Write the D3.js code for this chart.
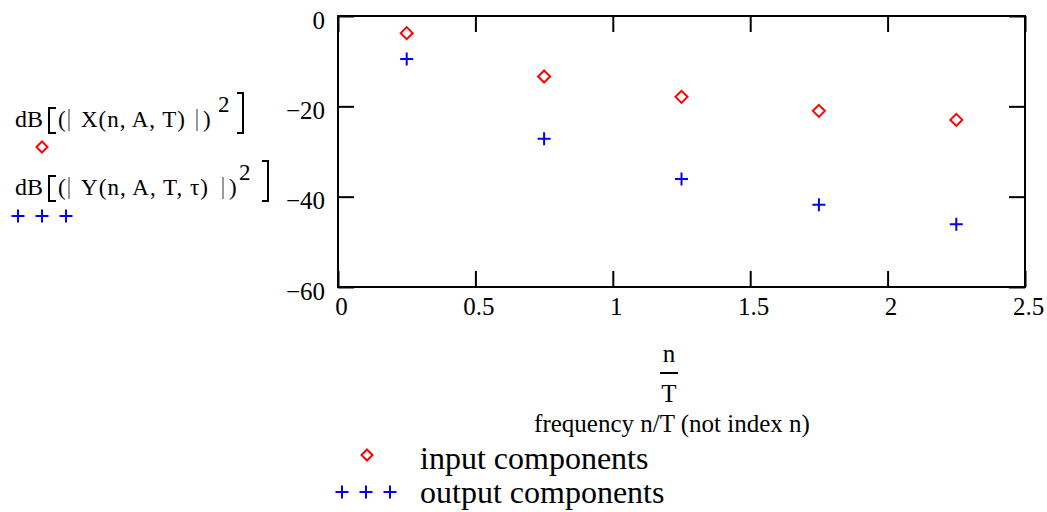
<!DOCTYPE html>
<html>
<head>
<meta charset="utf-8">
<script src="https://cdn.jsdelivr.net/npm/d3@7"></script>
<style>
  body { margin: 0; background: #fff; }
  svg { display: block; font-family: "Liberation Serif", "DejaVu Serif", serif; }
</style>
</head>
<body>
<svg id="chart" width="1047" height="512"></svg>
<script>
// Data
const freq = [0.25, 0.75, 1.25, 1.75, 2.25];
const inputDb = [-3.8, -13.4, -17.9, -21.0, -23.0];
const outputDb = [-9.5, -27.2, -36.1, -41.8, -46.1];
const xTicks = [0, 0.5, 1, 1.5, 2, 2.5];
const yTicks = [0, -20, -40, -60];

const svg = d3.select('#chart');

// Plot frame
const plotL = 338, plotR = 1025, plotT = 16, plotB = 287;

const x = d3.scaleLinear().domain([0, 2.5]).range([plotL, plotR]);
const y = d3.scaleLinear().domain([-60, 0]).range([plotB, plotT]);

const tickLen = 16;
const fmtX = d => d3.format('')(d);
const fmtY = d => d === 0 ? '0' : '\u2212' + Math.abs(d);

// Axes with inward ticks, mirrored on all four sides
const gBottom = svg.append('g').attr('transform', `translate(0,${plotB})`)
    .call(d3.axisBottom(x).tickValues(xTicks).tickSize(-tickLen).tickPadding(12).tickFormat(fmtX));
const gTop = svg.append('g').attr('transform', `translate(0,${plotT})`)
    .call(d3.axisTop(x).tickValues(xTicks).tickSize(-tickLen).tickFormat(''));
const gLeft = svg.append('g').attr('transform', `translate(${plotL},0)`)
    .call(d3.axisLeft(y).tickValues(yTicks).tickSize(-tickLen).tickPadding(13).tickFormat(fmtY));
const gRight = svg.append('g').attr('transform', `translate(${plotR},0)`)
    .call(d3.axisRight(y).tickValues(yTicks).tickSize(-tickLen).tickFormat(''));

[gBottom, gTop, gLeft, gRight].forEach(g => {
  g.selectAll('.domain').remove();
  g.selectAll('.tick line').attr('stroke', '#000').attr('stroke-width', 2);
  g.selectAll('.tick text').attr('fill', '#000')
    .style('font-family', '"Liberation Serif", serif').style('font-size', '25px');
});
gBottom.selectAll('.tick text').attr('dy', '0.64em').attr('dx', 3);
gLeft.selectAll('.tick text').attr('dy', '0.48em');

svg.append('rect')
  .attr('x', plotL).attr('y', plotT)
  .attr('width', plotR - plotL).attr('height', plotB - plotT)
  .attr('fill', 'none').attr('stroke', '#000').attr('stroke-width', 2);

// Markers
const diamond = (cx, cy, r) => `M${cx},${cy - r}L${cx + r},${cy}L${cx},${cy + r}L${cx - r},${cy}Z`;
const plus = (cx, cy, r) => `M${cx - r},${cy}H${cx + r}M${cx},${cy - r}V${cy + r}`;

svg.append('g').selectAll('path')
  .data(freq.map((f, i) => [f, inputDb[i]]))
  .join('path')
  .attr('d', d => diamond(x(d[0]), y(d[1]), 6))
  .attr('fill', 'none').attr('stroke', '#ff0000').attr('stroke-width', 2);

svg.append('g').selectAll('path')
  .data(freq.map((f, i) => [f, outputDb[i]]))
  .join('path')
  .attr('d', d => plus(x(d[0]), y(d[1]), 6.5))
  .attr('fill', 'none').attr('stroke', '#0000ff').attr('stroke-width', 2);

// X axis label: fraction n/T and caption
const lab = svg.append('g').style('font-size', '25px').attr('fill', '#000');
lab.append('text').attr('x', 669).attr('y', 362).attr('text-anchor', 'middle').text('n');
lab.append('line').attr('x1', 660).attr('x2', 678).attr('y1', 373).attr('y2', 373)
  .attr('stroke', '#000').attr('stroke-width', 2);
lab.append('text').attr('x', 669).attr('y', 402).attr('text-anchor', 'middle').text('T');
lab.append('text').attr('x', 672).attr('y', 432).attr('text-anchor', 'middle')
  .style('font-size', '25px').text('frequency n/T (not index n)');

// Bottom legend
const leg = svg.append('g').style('font-size', '32px').attr('fill', '#000');
leg.append('path').attr('d', diamond(367, 455, 5.5))
  .attr('fill', 'none').attr('stroke', '#ff0000').attr('stroke-width', 2);
leg.append('text').attr('x', 420).attr('y', 469).text('input components');
[342, 366, 390].forEach(cx => leg.append('path').attr('d', plus(cx, 492, 6.5))
  .attr('fill', 'none').attr('stroke', '#0000ff').attr('stroke-width', 2));
leg.append('text').attr('x', 420).attr('y', 503).text('output components');

// Left trace labels (Mathcad style expressions)
function expr(g, yb, e, brTop) {
  g.append('text').attr('x', 15).attr('y', yb).style('font-size', '24px').text('dB');
  // left bracket
  g.append('path').attr('d', `M56,${brTop}H49V${yb + 6}H56`)
    .attr('fill', 'none').attr('stroke', '#000').attr('stroke-width', 2);
  g.append('text').attr('x', 58).attr('y', yb).style('font-size', '23px').text('(');
  g.append('line').attr('x1', 69).attr('x2', 69).attr('y1', yb - 18).attr('y2', yb + 4)
    .attr('stroke', '#777').attr('stroke-width', 1.5);
  g.append('text').attr('x', 81).attr('y', yb).style('font-size', '23px')
    .attr('textLength', e.w).text(e.text);
  g.append('line').attr('x1', e.bar).attr('x2', e.bar).attr('y1', yb - 18).attr('y2', yb + 4)
    .attr('stroke', '#777').attr('stroke-width', 1.5);
  g.append('text').attr('x', e.bar + 6).attr('y', yb).style('font-size', '23px').text(')');
  g.append('text').attr('x', e.sup).attr('y', yb - 15).style('font-size', '23px').text('2');
  // right bracket
  g.append('path').attr('d', `M${e.rb - 6},${yb - 34}H${e.rb}V${yb + 6}H${e.rb - 6}`)
    .attr('fill', 'none').attr('stroke', '#000').attr('stroke-width', 2);
}
const lg = svg.append('g').attr('fill', '#000');
expr(lg, 127, { text: 'X(n, A, T)', w: 104, bar: 197, sup: 218, rb: 243 }, 108);
expr(lg, 195, { text: 'Y(n, A, T, \u03c4)', w: 127, bar: 223, sup: 239, rb: 268 }, 176);
lg.append('path').attr('d', diamond(42, 147, 5.5))
  .attr('fill', 'none').attr('stroke', '#ff0000').attr('stroke-width', 2);
[18, 42, 66].forEach(cx => lg.append('path').attr('d', plus(cx, 216, 6.5))
  .attr('fill', 'none').attr('stroke', '#0000ff').attr('stroke-width', 2));
</script>
</body>
</html>
